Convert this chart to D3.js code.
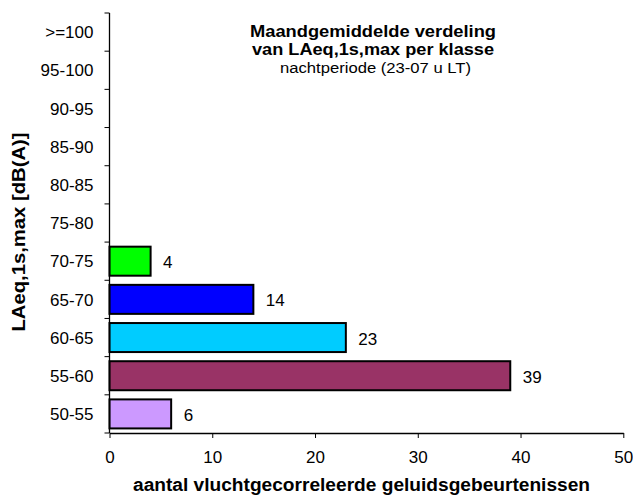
<!DOCTYPE html>
<html><head><meta charset="utf-8">
<script src="https://cdn.jsdelivr.net/npm/d3@7"></script>
<style>body{margin:0;background:#fff}svg{display:block}text{font-family:"Liberation Sans",Arial,sans-serif}</style>
</head><body>
<script>
const categories = [">=100","95-100","90-95","85-90","80-85","75-80","70-75","65-70","60-65","55-60","50-55"];
const values = [null,null,null,null,null,null,4,14,23,39,6];
const colors = [null,null,null,null,null,null,"#00ff00","#0000ff","#00ccff","#993366","#cc99ff"];
const xTicks = [0,10,20,30,40,50];
const titleLines = ["Maandgemiddelde verdeling","van LAeq,1s,max per klasse","nachtperiode (23-07 u LT)"];
const xTitle = "aantal vluchtgecorreleerde geluidsgebeurtenissen";
const yTitle = "LAeq,1s,max [dB(A)]";

(function(){
const W=633,H=495;
const svg=d3.select("body").append("svg").attr("width",W).attr("height",H);
const mL=109.5, mR=623.3, mT=13, mB=433;
const FS=17;
const x=d3.scaleLinear().domain([0,50]).range([mL,mR]);
const y=d3.scaleBand().domain(categories).range([mT,mB]).paddingInner(0.24).paddingOuter(0.12);

const data=categories.map((c,i)=>({c,v:values[i],col:colors[i]})).filter(d=>d.v!=null);
svg.selectAll("rect.bar").data(data).enter().append("rect")
  .attr("x",x(0)).attr("y",d=>y(d.c)).attr("width",d=>x(d.v)-x(0)).attr("height",y.bandwidth())
  .attr("fill",d=>d.col).attr("stroke","#000").attr("stroke-width",2);
svg.selectAll("text.val").data(data).enter().append("text")
  .attr("x",d=>x(d.v)+12.5).attr("y",d=>y(d.c)+y.bandwidth()/2+7)
  .attr("font-size",FS).text(d=>d.v);

const step=(mB-mT)/categories.length;
const yAxisG=svg.append("g");
yAxisG.append("line").attr("x1",mL).attr("x2",mL).attr("y1",mT).attr("y2",mB).attr("stroke","#000").attr("stroke-width",1.3);
d3.range(categories.length+1).forEach(i=>{
  yAxisG.append("line").attr("x1",mL-5).attr("x2",mL).attr("y1",mT+i*step).attr("y2",mT+i*step).attr("stroke","#000").attr("stroke-width",1);
});
categories.forEach((c,i)=>{
  yAxisG.append("text").attr("x",93.5).attr("y",mT+(i+0.5)*step+6.2).attr("text-anchor","end").attr("font-size",FS).text(c);
});

const xAxis=d3.axisBottom(x).tickValues(xTicks).tickSize(5).tickPadding(12.5).tickSizeOuter(0);
const xg=svg.append("g").attr("transform",`translate(0,${mB})`).call(xAxis);
xg.select(".domain").attr("stroke","#000").attr("stroke-width",1.3);
xg.selectAll(".tick line").attr("stroke","#000");
xg.selectAll("text").attr("font-size",FS).attr("font-family","Liberation Sans, Arial, sans-serif").attr("fill","#000");

const tcx=373;
svg.append("text").attr("x",tcx).attr("y",37.3).attr("text-anchor","middle").attr("font-size",16).attr("font-weight","bold")
  .attr("textLength",246).attr("lengthAdjust","spacingAndGlyphs").text(titleLines[0]);
svg.append("text").attr("x",tcx).attr("y",54.5).attr("text-anchor","middle").attr("font-size",16).attr("font-weight","bold")
  .attr("textLength",242).attr("lengthAdjust","spacingAndGlyphs").text(titleLines[1]);
svg.append("text").attr("x",tcx+2.5).attr("y",73).attr("text-anchor","middle").attr("font-size",15.5)
  .attr("textLength",191).attr("lengthAdjust","spacingAndGlyphs").text(titleLines[2]);

svg.append("text").attr("x",361.5).attr("y",490.5).attr("text-anchor","middle").attr("font-size",17.5).attr("font-weight","bold")
  .attr("textLength",457).attr("lengthAdjust","spacingAndGlyphs").text(xTitle);
svg.append("text").attr("transform",`translate(25,232) rotate(-90)`).attr("text-anchor","middle").attr("font-size",18).attr("font-weight","bold")
  .attr("textLength",199).attr("lengthAdjust","spacingAndGlyphs").text(yTitle);
})();
</script>
</body></html>
